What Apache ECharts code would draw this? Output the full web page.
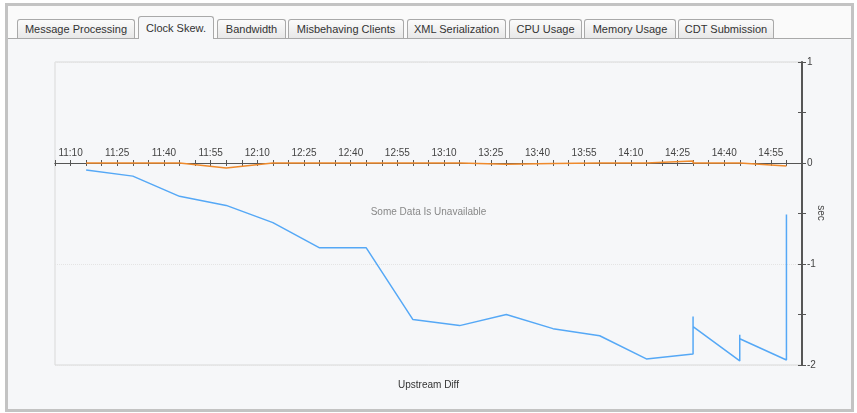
<!DOCTYPE html>
<html>
<head>
<meta charset="utf-8">
<script src="https://cdn.jsdelivr.net/npm/echarts@6/dist/echarts.min.js"></script>
<style>
  html, body { margin: 0; padding: 0; background: #ffffff; }
  #wrap { position: relative; width: 857px; height: 413px; overflow: hidden; }
  #frame { position: absolute; left: 5px; top: 3px; width: 849px; height: 409px; box-sizing: border-box;
           border: 3px solid #c3c3c3; background: #fafafa; }
  #panel { position: absolute; left: 8px; top: 38px; width: 843px; height: 371px; box-sizing: border-box;
           border-top: 1px solid #a9a9a9; background: #f6f7f9; }
  .tab { position: absolute; top: 19px; height: 19px; box-sizing: border-box; border: 1px solid #a9a9a9; border-bottom: none;
         border-radius: 3px 3px 0 0; background: linear-gradient(#fbfbfb, #e8e8e8);
         font: 11px "Liberation Sans", Arial, sans-serif; color: #333; text-align: center; line-height: 18px; }
  .tab.active { top: 16px; height: 23px; background: #f6f7f9; line-height: 22px; }
  #chart { position: absolute; left: 0; top: 0; width: 857px; height: 413px; }
</style>
</head>
<body>
<div id="wrap">
  <div id="frame"></div>
  <div id="panel"></div>
  <div id="tabs"></div>
  <div id="chart"></div>
</div>
<script>
// ---- data ----
const tabNames = ['Message Processing', 'Clock Skew.', 'Bandwidth', 'Misbehaving Clients', 'XML Serialization', 'CPU Usage', 'Memory Usage', 'CDT Submission'];
const activeTab = 1;

const blueTimes = ['11:15','11:30','11:45','12:00','12:15','12:30','12:45','13:00','13:15','13:30','13:45','14:00','14:15','14:30','14:30','14:30','14:45','14:45','14:45','15:00','15:00'];
const blueValues = [-0.07,-0.13,-0.33,-0.42,-0.59,-0.84,-0.84,-1.55,-1.61,-1.50,-1.64,-1.71,-1.94,-1.89,-1.52,-1.62,-1.96,-1.70,-1.74,-1.95,-0.51];

const orangeTimes = ['11:15','11:30','11:45','12:00','12:15','12:30','12:45','13:00','13:15','13:30','13:45','14:00','14:15','14:30','14:30','14:45','15:00'];
const orangeValues = [0,0,0,-0.05,0,0,0,0,0,-0.012,-0.005,0,0,0.02,0,0,-0.03];

const xStart = '11:05', xEnd = '15:05', firstLabel = '11:10';
const yTicks = [-2, -1, 0, 1];

const seriesName = 'Upstream Diff';
const noteText = 'Some Data Is Unavailable';
const yName = 'sec';

// ---- tabs (HTML) ----
const tabPos = [[17,118],[138,76],[217,69],[288,116],[407,99],[509,73],[584,92],[678,96]];
const tabsEl = document.getElementById('tabs');
tabNames.forEach((t, i) => {
  const d = document.createElement('div');
  d.className = 'tab' + (i === activeTab ? ' active' : '');
  d.style.left = tabPos[i][0] + 'px';
  d.style.width = tabPos[i][1] + 'px';
  d.textContent = t;
  tabsEl.appendChild(d);
});

// ---- chart ----
const toMin = s => { const p = s.split(':'); return (+p[0]) * 60 + (+p[1]); };
const fmt = v => { const h = Math.floor(v / 60), m = v % 60; return h + ':' + (m < 10 ? '0' : '') + m; };
const xMin = toMin(xStart), xMax = toMin(xEnd), lab0 = toMin(firstLabel);

const chart = echarts.init(document.getElementById('chart'), null, { renderer: 'canvas' });
const font = '"Liberation Sans", Arial, sans-serif';
const axisCol = '#555';

const xBase = {
  type: 'value', min: xMin, max: xMax, interval: 5, position: 'bottom',
  splitLine: { show: false },
  axisLine: { show: true, onZero: true, onZeroAxisIndex: 0, lineStyle: { color: axisCol, width: 1 } }
};
const yBase = {
  type: 'value', min: -2, max: 1, position: 'right',
  axisLine: { show: true, onZero: false, lineStyle: { color: axisCol, width: 1.5 } }
};

chart.setOption({
  animation: false,
  textStyle: { fontFamily: font },
  grid: { left: 55, right: 55, top: 62, bottom: 48, show: true, borderColor: '#d9d9d9', borderWidth: 1, backgroundColor: 'transparent' },
  xAxis: [
    Object.assign({}, xBase, {
      axisTick: { show: true, inside: false, length: 3, lineStyle: { color: axisCol } },
      axisLabel: { show: true, inside: true, margin: 207, fontSize: 10, color: '#444', fontFamily: font,
        formatter: v => ((v - lab0) % 15 === 0 && v >= lab0) ? fmt(v) : '' }
    }),
    Object.assign({}, xBase, {
      axisTick: { show: true, inside: true, length: 3, lineStyle: { color: axisCol } },
      axisLabel: { show: false }
    })
  ],
  yAxis: [
    Object.assign({}, yBase, {
      interval: 1,
      axisTick: { show: false },
      axisLabel: { show: true, margin: 5, fontSize: 10, color: '#444', fontFamily: font,
        formatter: v => yTicks.indexOf(v) >= 0 ? String(v) : '' },
      splitLine: { show: true, lineStyle: { color: '#e4e4e4', type: 'dotted' } }
    }),
    Object.assign({}, yBase, { interval: 0.5, axisLabel: { show: false }, splitLine: { show: false },
      axisTick: { show: true, inside: false, length: 4, lineStyle: { color: axisCol } } }),
    Object.assign({}, yBase, { interval: 0.5, axisLabel: { show: false }, splitLine: { show: false },
      axisTick: { show: true, inside: true, length: 4, lineStyle: { color: axisCol } } })
  ],
  graphic: [
    { type: 'text', left: 'center', top: 207, style: { text: noteText, fill: '#888', font: '10px ' + font } },
    { type: 'text', left: 'center', top: 380, style: { text: seriesName, fill: '#333', font: '10px ' + font } },
    { type: 'text', x: 821, y: 213, rotation: -Math.PI / 2,
      style: { text: yName, fill: '#444', font: '10px ' + font, align: 'center', verticalAlign: 'middle' } }
  ],
  series: [
    {
      name: 'other', type: 'line', xAxisIndex: 0, yAxisIndex: 0, symbol: 'none', z: 5,
      lineStyle: { color: '#ef8a2c', width: 1.5 },
      data: orangeTimes.map((t, i) => [toMin(t), orangeValues[i]])
    },
    {
      name: seriesName, type: 'line', xAxisIndex: 0, yAxisIndex: 0, symbol: 'none', z: 6,
      lineStyle: { color: '#55a8f6', width: 1.5 },
      data: blueTimes.map((t, i) => [toMin(t), blueValues[i]])
    }
  ]
});
</script>
</body>
</html>
